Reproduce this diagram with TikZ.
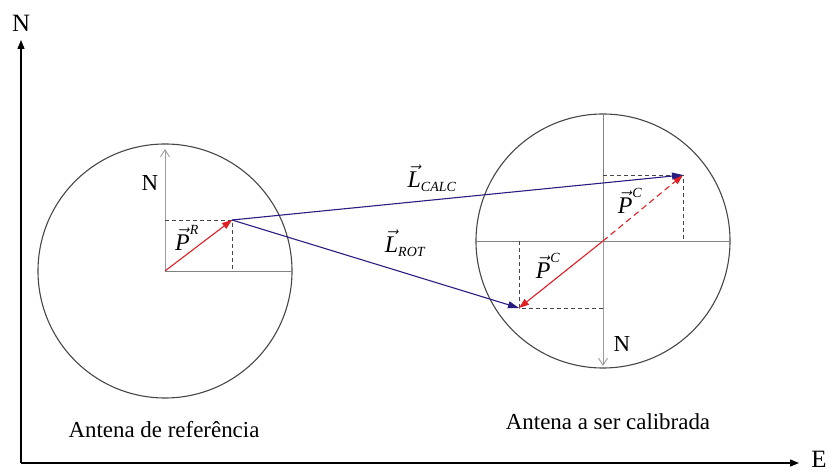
\documentclass[tikz,border=0pt]{standalone}
\usepackage{fontspec}
\setmainfont{Liberation Serif}
\usetikzlibrary{arrows.meta}
\newcommand{\myvec}[2]{$\vec{\hbox{\itshape #1}}^{\hbox{\itshape\fontsize{14}{14}\selectfont #2}}$}
\newcommand{\mylvec}[2]{$\vec{\hbox{\itshape #1}}_{\hbox{\itshape\fontsize{14}{14}\selectfont #2}}$}
\definecolor{vred}{RGB}{225,30,35}
\definecolor{vblue}{RGB}{40,30,130}
\definecolor{cgray}{RGB}{70,70,70}
\definecolor{lgray}{RGB}{130,130,130}
\tikzset{
  lbl/.style={font=\fontsize{23}{25}\selectfont, inner sep=0pt},
  axlbl/.style={font=\fontsize{25}{27}\selectfont, inner sep=0pt},
  vlbl/.style={font=\fontsize{24}{26}\selectfont, inner sep=0pt},
  axis/.style={line width=1.3pt, -{Triangle[length=9bp,width=7bp]}},
  ring/.style={draw=cgray, line width=1.1pt},
  cross/.style={draw=lgray, line width=0.9pt},
  guide/.style={draw=cgray, dash pattern=on 4bp off 3bp, line width=0.8pt},
  redvec/.style={draw=vred, line width=1.1pt, -{Triangle[length=10bp,width=7bp]}},
  bluevec/.style={draw=vblue, line width=1.1pt, -{Triangle[length=11bp,width=7bp]}},
  northarrow/.style={draw=lgray!80, line width=0.9pt, -{Straight Barb[length=7bp,width=9bp]}}
}
\begin{document}
\begin{tikzpicture}[x=1bp,y=-1bp]
\path[use as bounding box] (0,0) rectangle (834,472);
% global axes
\coordinate (O) at (21,463);
\coordinate (Ntip) at (21,40);
\coordinate (Etip) at (799,463);
\draw[axis] (O) -- (Ntip);
\draw[axis] (O) -- (Etip);
\node[axlbl] (Nlab) at (21,23) {N};
\node[axlbl] (Elab) at (819,459) {E};
% left antenna
\coordinate (Lc) at (165,271);
\draw[ring] (Lc) circle (127);
\coordinate (LcE) at (292,271);
\coordinate (LcN) at (165,149);
\draw[cross] (Lc) -- (LcE);
\draw[northarrow] (Lc) -- (LcN);
\node[lbl] (LN) at (150,183) {N};
\coordinate (PR) at (232,220);
\coordinate (PRy) at (165,220);
\coordinate (PRx) at (232,271);
\draw[guide] (PRy) -- (PR) -- (PRx);
\draw[redvec] (Lc) -- (PR);
\node[vlbl] (PRlab) at (187,238) {\myvec{P}{R}};
\node[lbl] (Lcap) at (164,430) {Antena de referência};
% right antenna
\coordinate (Rc) at (603,241);
\draw[ring] (Rc) circle (127);
\coordinate (RW) at (476,241);
\coordinate (RE) at (730,241);
\coordinate (RT) at (603,114);
\coordinate (RB) at (603,366);
\draw[cross] (RW) -- (RE);
\draw[cross] (RT) -- (Rc);
\draw[northarrow] (Rc) -- (RB);
\node[lbl] (RN) at (622,344) {N};
\coordinate (PC1) at (683,175);
\coordinate (PC1y) at (603,175);
\coordinate (PC1x) at (683,241);
\draw[guide] (PC1y) -- (PC1) -- (PC1x);
\draw[redvec, dash pattern=on 6bp off 4bp] (Rc) -- (PC1);
\node[vlbl] (PC1lab) at (630,201) {\myvec{P}{C}};
\coordinate (PC2) at (519,308);
\coordinate (PC2y) at (519,241);
\coordinate (PC2x) at (603,308);
\draw[guide] (PC2y) -- (PC2) -- (PC2x);
\draw[redvec] (Rc) -- (PC2);
\node[vlbl] (PC2lab) at (548,266) {\myvec{P}{C}};
\node[lbl] (Rcap) at (608,422) {Antena a ser calibrada};
% connectors
\draw[bluevec] (PR) -- (PC1);
\draw[bluevec] (PR) -- (PC2);
\node[vlbl] (Lcalc) at (432,178) {\mylvec{L}{CALC}};
\node[vlbl] (Lrot) at (405,243) {\mylvec{L}{ROT}};
\end{tikzpicture}
\end{document}
